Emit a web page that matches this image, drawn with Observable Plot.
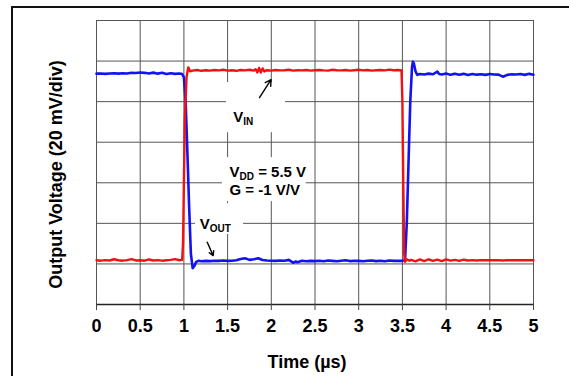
<!DOCTYPE html>
<html>
<head>
<meta charset="utf-8">
<script src="https://cdn.jsdelivr.net/npm/d3@7"></script>
<script src="https://cdn.jsdelivr.net/npm/@observablehq/plot@0.6"></script>
<style>
  html, body { margin: 0; padding: 0; background: #fff; overflow: hidden; }
  #wrap { position: relative; width: 569px; height: 376px; overflow: hidden; }
  #border { position: absolute; left: 11px; top: 6px; width: 600px; height: 400px;
            border-left: 2px solid #111; border-top: 2px solid #111; pointer-events: none; }
  #chart { position: absolute; left: 0; top: 0; }
</style>
</head>
<body>
<div id="wrap"><div id="chart"></div><div id="border"></div></div>
<script>
// ---- data ----
const xTicks = [0, 0.5, 1, 1.5, 2, 2.5, 3, 3.5, 4, 4.5, 5];
const yGrid = [0, 20, 40, 60, 80, 100, 120, 140]; // mV, 20 mV/div

// V_OUT (blue) time in µs, value in mV
const voutT = [0,0.05,0.1,0.15,0.2,0.25,0.3,0.35,0.4,0.45,0.5,0.55,0.6,0.65,0.7,0.75,0.8,0.85,0.9,0.95,0.98,1.0,1.02,1.04,1.06,1.08,1.1,1.12,1.14,1.17,1.2,1.25,1.3,1.35,1.4,1.45,1.5,1.55,1.6,1.65,1.7,1.75,1.8,1.85,1.9,1.95,2.0,2.05,2.1,2.15,2.2,2.25,2.28,2.3,2.35,2.4,2.45,2.5,2.55,2.6,2.65,2.7,2.75,2.8,2.85,2.9,2.95,3.0,3.05,3.1,3.15,3.2,3.25,3.3,3.35,3.4,3.45,3.5,3.53,3.55,3.57,3.59,3.61,3.62,3.63,3.65,3.67,3.7,3.75,3.8,3.85,3.9,3.92,3.95,4.0,4.05,4.1,4.15,4.2,4.25,4.3,4.35,4.4,4.45,4.5,4.55,4.6,4.65,4.7,4.75,4.8,4.85,4.9,4.95,5.0];
const voutV = [113.8,113.9,113.7,113.9,114.0,113.8,114.0,113.9,114.2,114.1,114.4,114.2,113.9,114.3,113.8,114.2,113.6,114.0,113.7,113.9,113.6,112.0,100,75,48,25,17.9,19.0,21.0,21.6,21.3,21.5,21.4,21.6,21.5,21.7,21.5,21.6,21.8,22.4,22.8,22.0,22.3,22.8,21.9,21.7,21.6,21.5,21.7,21.6,22.0,20.6,21.2,20.8,21.6,21.3,21.5,21.4,21.6,21.3,21.7,21.5,21.3,21.6,21.8,21.4,21.6,21.5,21.3,21.6,21.7,21.4,21.6,21.3,21.7,21.5,21.6,21.5,22.0,40,70,100,117,119.7,119,115,113.2,113.6,113.4,113.8,113.5,114.8,113.6,113.4,113.9,113.2,113.8,113.3,113.7,113.1,113.6,113.3,113.5,113.2,113.6,113.4,113.3,112.3,113.2,113.5,113.4,113.6,113.2,113.7,113.3];

// V_IN (red)
const vinT = [0,0.05,0.1,0.15,0.2,0.25,0.3,0.35,0.4,0.45,0.5,0.55,0.6,0.65,0.7,0.75,0.8,0.85,0.9,0.95,0.98,0.99,1.0,1.01,1.03,1.05,1.07,1.1,1.15,1.2,1.25,1.3,1.35,1.4,1.45,1.5,1.55,1.6,1.65,1.7,1.75,1.8,1.82,1.84,1.86,1.88,1.9,1.92,1.95,2.0,2.05,2.1,2.15,2.2,2.25,2.3,2.35,2.4,2.45,2.5,2.55,2.6,2.65,2.7,2.75,2.8,2.85,2.9,2.95,3.0,3.05,3.1,3.15,3.2,3.25,3.3,3.35,3.4,3.45,3.49,3.5,3.51,3.52,3.53,3.55,3.58,3.6,3.65,3.7,3.75,3.8,3.85,3.9,3.95,4.0,4.05,4.1,4.15,4.2,4.25,4.3,4.35,4.4,4.45,4.5,4.55,4.6,4.65,4.7,4.75,4.8,4.85,4.9,4.95,5.0];
const vinV = [21.8,21.6,21.9,21.7,22.3,21.8,21.6,21.9,22.4,21.7,21.8,21.6,22.2,21.7,21.9,21.6,21.8,22.0,22.4,21.8,22.0,30,60,90,112,116.9,115.0,115.3,115.6,115.2,115.5,115.3,115.6,115.4,115.7,115.3,115.5,115.2,115.6,115.4,115.7,115.3,116.0,114.4,116.6,114.3,116.4,114.9,115.5,115.3,115.6,115.4,115.5,115.7,115.3,115.5,115.4,115.6,115.3,115.5,115.6,115.4,115.3,115.7,115.5,115.4,115.6,115.3,115.5,115.7,115.4,115.6,115.3,115.5,115.6,115.4,115.8,115.5,115.6,115.4,100,60,25,21.0,22.3,21.6,22.0,21.3,22.2,21.4,22.3,21.5,22.1,21.4,22.2,21.6,22.0,21.5,22.1,21.7,21.9,21.7,21.9,21.8,21.9,21.8,21.9,21.7,21.9,21.8,21.9,21.8,21.8,21.9,21.8];

// annotations (data coordinates: µs, mV)
const boxX1 = [1.487, 1.133, 1.44];
const boxX2 = [2.162, 1.682, 2.40];
const boxY1 = [84.7, 34.5, 50.7];
const boxY2 = [109.4, 49.75, 72.4];
const labelText = ["V_{IN}", "V_{DD} = 5.5 V", "G = -1 V/V", "V_{OUT}"];
const labelX = [1.564, 1.522, 1.522, 1.182];
const labelY = [89.8, 62.8, 53.9, 37.3];
const arrowX1 = [1.865, 1.267];
const arrowY1 = [102, 30.7];
const arrowX2 = [1.997, 1.335];
const arrowY2 = [110.8, 24.1];

// ---- build ----
const vout = voutT.map((t, i) => ({t, v: voutV[i]}));
const vin = vinT.map((t, i) => ({t, v: vinV[i]}));
const boxes = boxX1.map((x1, i) => ({x1, x2: boxX2[i], y1: boxY1[i], y2: boxY2[i]}));
const labels = labelText.map((s, i) => ({s, x: labelX[i], y: labelY[i]}));
const arrows = arrowX1.map((x1, i) => ({x1, y1: arrowY1[i], x2: arrowX2[i], y2: arrowY2[i]}));

const font = "'Liberation Sans', Arial, Helvetica, sans-serif";
const gridColor = "#555";

const chart = Plot.plot({
  width: 569,
  height: 376,
  marginLeft: 96,
  marginRight: 36,
  marginTop: 20,
  marginBottom: 72,
  style: {fontFamily: font, fontSize: "18px", fontWeight: "bold", color: "#000", background: "transparent"},
  x: {domain: [0, 5]},
  y: {domain: [0, 140]},
  marks: [
    Plot.ruleX(xTicks, {stroke: gridColor, strokeWidth: 1}),
    Plot.ruleY(yGrid, {stroke: gridColor, strokeWidth: 1}),
    Plot.frame({stroke: gridColor, strokeWidth: 1}),
    Plot.ruleY([0], {stroke: "#222", strokeWidth: 1.5}),
    Plot.axisX({ticks: xTicks, tickSize: 6, tickPadding: 9, stroke: "#444",
                tickFormat: d => String(d), label: null, fontSize: 18, fontWeight: "bold", fill: "#000"}),
    Plot.axisY({ticks: [], label: null}),
    Plot.rect(boxes, {x1: "x1", x2: "x2", y1: "y1", y2: "y2", fill: "white"}),
    Plot.line(vout, {x: "t", y: "v", stroke: "#1212f2", strokeWidth: 2.6, curve: "linear"}),
    Plot.line(vin, {x: "t", y: "v", stroke: "#f01212", strokeWidth: 2.4, curve: "linear"}),
    Plot.arrow(arrows, {x1: "x1", y1: "y1", x2: "x2", y2: "y2", stroke: "#000", strokeWidth: 1.4, headLength: 7}),
    Plot.text(labels, {x: "x", y: "y", text: "s", textAnchor: "start", lineAnchor: "bottom",
                       fontSize: 15, fontWeight: "bold", fill: "#000"}),
    Plot.text(["Time (µs)"], {frameAnchor: "bottom", dy: 63, dx: -8, lineAnchor: "bottom", textAnchor: "middle",
                              fontSize: 18, fontWeight: "bold", fill: "#000"}),
    Plot.text(["Output Voltage (20 mV/div)"], {frameAnchor: "left", dx: -40, dy: 12, rotate: -90,
                              textAnchor: "middle", lineAnchor: "middle",
                              fontSize: 18, fontWeight: "bold", fill: "#000"})
  ]
});

// render subscripts as tspans (text stays real text)
chart.querySelectorAll("text").forEach(el => {
  const s = el.textContent;
  if (!s.includes("_{")) return;
  el.textContent = "";
  const parts = s.split(/_\{([^}]*)\}/);
  const ns = "http://www.w3.org/2000/svg";
  parts.forEach((p, i) => {
    if (!p) return;
    const ts = document.createElementNS(ns, "tspan");
    ts.textContent = p;
    if (i % 2 === 1) {
      ts.setAttribute("font-size", "10");
      ts.setAttribute("dy", "3");
    } else if (i > 0) {
      ts.setAttribute("dy", "-3");
    }
    el.appendChild(ts);
  });
});

document.getElementById("chart").appendChild(chart);
</script>
</body>
</html>
